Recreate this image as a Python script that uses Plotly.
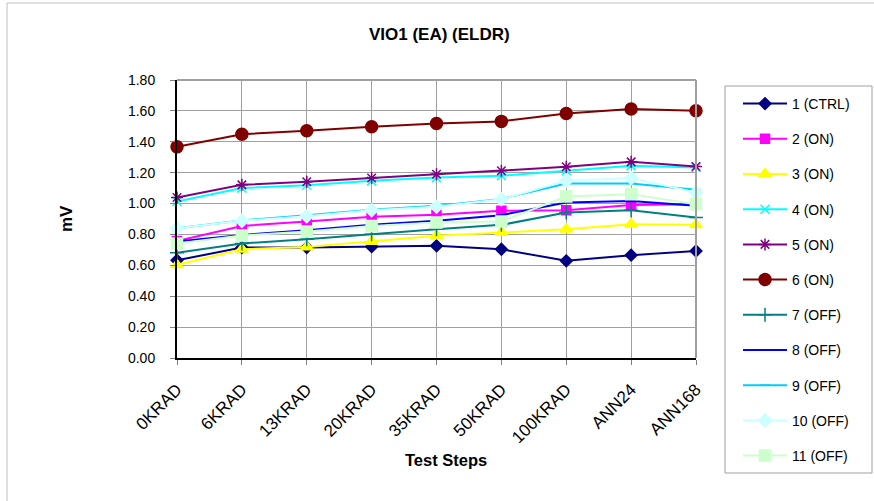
import plotly.graph_objects as go

categories = ["0KRAD", "6KRAD", "13KRAD", "20KRAD", "35KRAD", "50KRAD", "100KRAD", "ANN24", "ANN168"]

s1_ctrl = [0.633, 0.715, 0.715, 0.721, 0.726, 0.704, 0.629, 0.666, 0.693]
s2_on = [0.758, 0.855, 0.884, 0.915, 0.927, 0.953, 0.957, 0.991, 0.996]
s3_on = [0.603, 0.704, 0.719, 0.754, 0.791, 0.812, 0.834, 0.866, 0.862]
s4_on = [1.013, 1.100, 1.119, 1.147, 1.168, 1.180, 1.212, 1.244, 1.233]
s5_on = [1.039, 1.121, 1.141, 1.165, 1.190, 1.212, 1.238, 1.270, 1.240]
s6_on = [1.367, 1.449, 1.471, 1.497, 1.518, 1.532, 1.583, 1.612, 1.601]
s7_off = [0.682, 0.741, 0.769, 0.802, 0.834, 0.862, 0.942, 0.957, 0.909]
s8_off = [0.754, 0.797, 0.827, 0.862, 0.888, 0.925, 1.007, 1.017, 0.985]
s9_off = [0.840, 0.890, 0.925, 0.960, 0.985, 1.030, 1.130, 1.130, 1.090]
s10_off = [0.840, 0.888, 0.918, 0.957, 0.979, 1.028, 1.147, 1.165, 1.071]
s11_off = [0.741, 0.793, 0.819, 0.855, 0.877, 0.884, 1.046, 1.061, 0.996]

series_names = ["1 (CTRL)", "2 (ON)", "3 (ON)", "4 (ON)", "5 (ON)", "6 (ON)",
                "7 (OFF)", "8 (OFF)", "9 (OFF)", "10 (OFF)", "11 (OFF)"]
series_values = [s1_ctrl, s2_on, s3_on, s4_on, s5_on, s6_on,
                 s7_off, s8_off, s9_off, s10_off, s11_off]
colors = ["#000080", "#FF00FF", "#FFFF00", "#00FFFF", "#800080", "#800000",
          "#008080", "#0000FF", "#00CCFF", "#CCFFFF", "#CCFFCC"]
symbols = ["diamond", "square", "triangle-up", "x-thin-open", "asterisk-open", "circle",
           "cross-thin-open", "line-ew-open", "line-ew-open", "diamond", "square"]
sizes = [9, 9, 11, 9, 10, 12, 10, 6, 7, 10, 11]

fig = go.Figure()
for i, (name, vals) in enumerate(zip(series_names, series_values)):
    fig.add_trace(go.Scatter(
        x=list(range(len(categories))), y=vals, name=name, mode="lines+markers",
        line=dict(color=colors[i], width=2),
        marker=dict(symbol=symbols[i], size=sizes[i], color=colors[i],
                    line=dict(color=colors[i], width=1.5)),
        legendgroup=f"g{i}", cliponaxis=False,
    ))

L, R, T, B = 177, 696, 80, 358
W, H = 874, 501
def px(x):
    return (x - L) / (R - L)
def py(y):
    return (B - y) / (B - T)

font = "Liberation Sans, Arial, sans-serif"
fig.update_layout(
    width=W, height=H,
    margin=dict(l=L, r=W - R, t=T, b=H - B, autoexpand=False),
    paper_bgcolor="white", plot_bgcolor="white",
    font=dict(family=font, size=14, color="black"),
    showlegend=True,
    legend=dict(x=px(738), y=py(88), xanchor="left", yanchor="top",
                borderwidth=0, bgcolor="rgba(0,0,0,0)",
                tracegroupgap=14, font=dict(size=14, family=font),
                traceorder="grouped", itemwidth=44, maxheight=480),
    xaxis=dict(
        range=[0, len(categories) - 1], tickmode="array",
        tickvals=list(range(len(categories))), ticktext=categories,
        tickangle=-45, showgrid=True, gridcolor="#A0A0A0", gridwidth=1,
        showline=True, linecolor="black", linewidth=2,
        ticks="outside", ticklen=5, tickcolor="#808080", ticklabelstandoff=8,
        tickfont=dict(size=17, family=font), zeroline=False,
    ),
    yaxis=dict(
        range=[0, 1.8], dtick=0.2, tickformat=".2f",
        showgrid=True, gridcolor="#A0A0A0", gridwidth=1,
        showline=True, linecolor="black", linewidth=2,
        ticks="outside", ticklen=5, tickcolor="#808080", ticklabelstandoff=12,
        tickfont=dict(size=14, family=font), zeroline=False,
    ),
    annotations=[
        dict(text="<b>VIO1 (EA) (ELDR)</b>", x=px(439), y=py(35), xref="paper", yref="paper",
             showarrow=False, font=dict(size=17, family=font), xanchor="center", yanchor="middle"),
        dict(text="<b>mV</b>", x=px(66), y=py(219), xref="paper", yref="paper",
             showarrow=False, textangle=-90, font=dict(size=17, family=font),
             xanchor="center", yanchor="middle"),
        dict(text="<b>Test Steps</b>", x=px(446), y=py(460), xref="paper", yref="paper",
             showarrow=False, font=dict(size=16.5, family=font), xanchor="center", yanchor="middle"),
    ],
    shapes=[
        dict(type="line", xref="paper", yref="paper", x0=0, x1=1, y0=1, y1=1,
             line=dict(color="#A0A0A0", width=2)),
        dict(type="line", xref="paper", yref="paper", x0=1, x1=1, y0=0, y1=1,
             line=dict(color="#A0A0A0", width=2)),
        dict(type="rect", xref="paper", yref="paper", x0=px(7), x1=px(890), y0=py(3), y1=py(520),
             line=dict(color="#C0C0C0", width=1)),
        dict(type="rect", xref="paper", yref="paper", x0=px(725), x1=px(872), y0=py(86), y1=py(473),
             line=dict(color="#A0A0A0", width=1), fillcolor="white", layer="below"),
    ],
)

fig.write_html("out.html", config={"displayModeBar": False},
               post_script="document.body.style.margin='0';document.body.style.overflow='hidden';")
